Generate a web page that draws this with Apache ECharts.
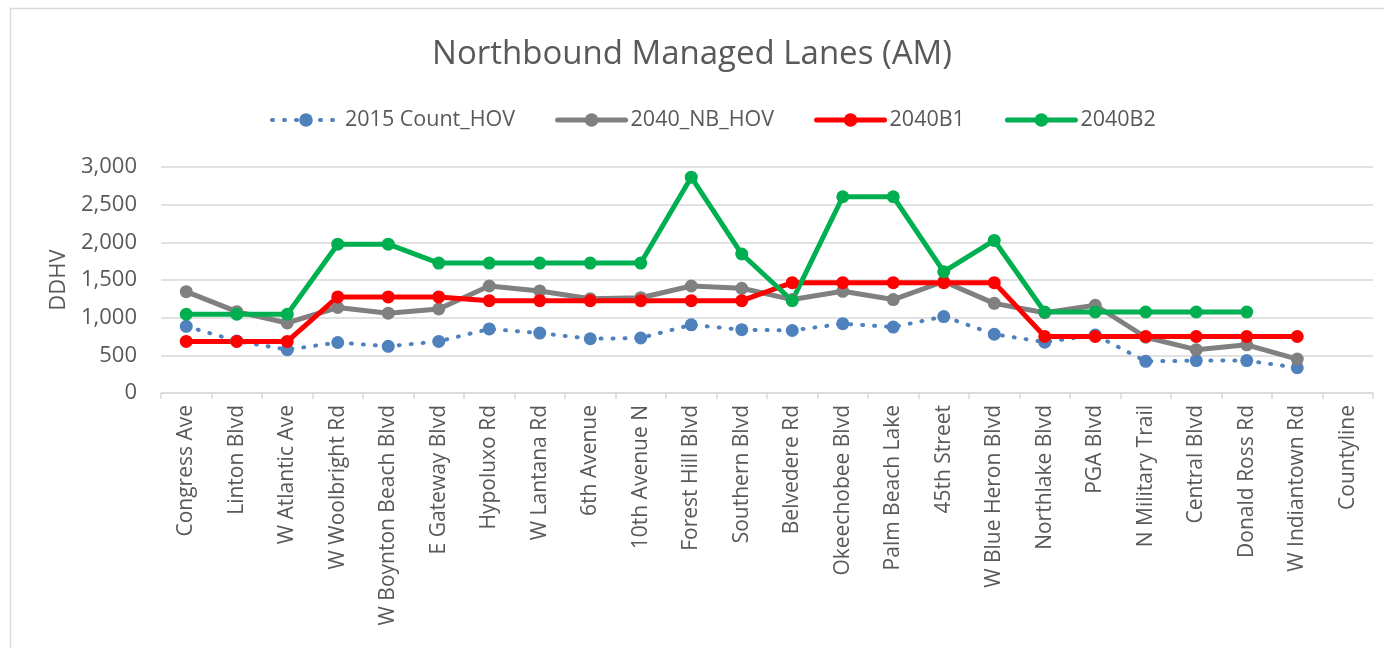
<!DOCTYPE html>
<html>
<head>
<meta charset="utf-8">
<title>Northbound Managed Lanes (AM)</title>
<script src="https://cdn.jsdelivr.net/npm/echarts@6/dist/echarts.min.js"></script>
<style>
  html, body { margin: 0; padding: 0; background: #fff; }
  #chart { width: 1384px; height: 648px; }
</style>
</head>
<body>
<div id="chart"></div>
<script>
  // categories along the corridor (south -> north)
  var streets = ['Congress Ave', 'Linton Blvd', 'W Atlantic Ave', 'W Woolbright Rd', 'W Boynton Beach Blvd',
    'E Gateway Blvd', 'Hypoluxo Rd', 'W Lantana Rd', '6th Avenue', '10th Avenue N', 'Forest Hill Blvd',
    'Southern Blvd', 'Belvedere Rd', 'Okeechobee Blvd', 'Palm Beach Lake', '45th Street', 'W Blue Heron Blvd',
    'Northlake Blvd', 'PGA Blvd', 'N Military Trail', 'Central Blvd', 'Donald Ross Rd', 'W Indiantown Rd', 'Countyline']

  var count2015 = [885, 690, 575, 670, 620, 685, 850, 795, 720, 730, 905, 840, 830, 920, 875, 1015, 780, 675, 770, 420, 430, 430, 335, null]
  var nbHov2040 = [1345, 1080, 930, 1135, 1060, 1115, 1420, 1355, 1250, 1265, 1420, 1390, 1240, 1350, 1240, 1480, 1190, 1065, 1165, 740, 575, 640, 450, null]
  var b1_2040 = [685, 685, 685, 1275, 1275, 1275, 1225, 1225, 1225, 1225, 1225, 1225, 1465, 1465, 1465, 1465, 1465, 750, 750, 750, 750, 750, 750, null]
  var b2_2040 = [1045, 1045, 1045, 1975, 1975, 1725, 1725, 1725, 1725, 1725, 2865, 1845, 1225, 2605, 2605, 1610, 2025, 1075, 1075, 1075, 1075, 1075, null, null]

  var yTicks = { min: 0, max: 3000, step: 500 }

  var chart = echarts.init(document.getElementById('chart'))

  function lineSeries(name, data, color, dotted) {
    return {
      name: name,
      type: 'line',
      data: data,
      symbol: 'circle',
      symbolSize: 13,
      showSymbol: true,
      connectNulls: false,
      itemStyle: { color: color },
      lineStyle: dotted
        ? { color: color, width: 4, type: [1, 11], cap: 'round' }
        : { color: color, width: 5, cap: 'round', join: 'round' },
      emphasis: { disabled: true }
    }
  }

  chart.setOption({
    animation: false,
    textStyle: { fontFamily: 'Open Sans', color: '#595959' },
    graphic: [{
      type: 'rect',
      shape: { x: 10.5, y: 8.5, width: 1400, height: 700 },
      style: { fill: 'none', stroke: '#D9D9D9', lineWidth: 1.5 },
      silent: true
    }],
    title: {
      text: 'Northbound Managed Lanes (AM)',
      left: 'center',
      top: 33,
      textStyle: { fontFamily: 'Open Sans', fontSize: 33, fontWeight: 'normal', color: '#595959' }
    },
    legend: {
      top: 104,
      left: 265,
      itemWidth: 68,
      itemHeight: 17,
      itemGap: 40,
      lineStyle: { width: 'inherit' },
      textStyle: { fontFamily: 'Open Sans', fontSize: 21.5, color: '#595959' },
      data: ['2015 Count_HOV', '2040_NB_HOV', '2040B1', '2040B2']
    },
    grid: { left: 161, right: 11, top: 167, bottom: 255 },
    xAxis: {
      type: 'category',
      data: streets,
      boundaryGap: true,
      axisLine: { lineStyle: { color: '#D9D9D9', width: 1.5 } },
      axisTick: { show: true, length: 6, lineStyle: { color: '#D9D9D9', width: 1.5 } },
      axisLabel: { rotate: 90, interval: 0, margin: 12, fontSize: 21, color: '#595959', fontFamily: 'Open Sans' },
      splitLine: { show: false }
    },
    yAxis: {
      type: 'value',
      min: yTicks.min,
      max: yTicks.max,
      interval: yTicks.step,
      name: 'DDHV',
      nameLocation: 'middle',
      nameGap: 87,
      nameTextStyle: { fontSize: 22, color: '#595959', fontFamily: 'Open Sans' },
      axisLine: { show: false },
      axisTick: { show: false },
      axisLabel: {
        fontSize: 22, color: '#595959', margin: 24, fontFamily: 'Open Sans',
        formatter: function (v) { return v.toLocaleString('en-US') }
      },
      splitLine: { lineStyle: { color: '#D9D9D9', width: 1.5 } }
    },
    series: [
      lineSeries('2015 Count_HOV', count2015, '#4F81BD', true),
      lineSeries('2040_NB_HOV', nbHov2040, '#808080', false),
      lineSeries('2040B1', b1_2040, '#FF0000', false),
      lineSeries('2040B2', b2_2040, '#00B050', false)
    ]
  })
</script>
</body>
</html>
